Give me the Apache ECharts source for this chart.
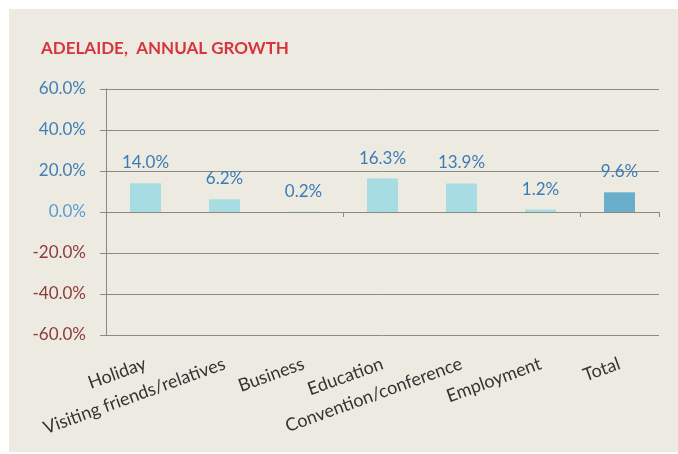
<!DOCTYPE html>
<html>
<head>
<meta charset="utf-8">
<script src="https://cdn.jsdelivr.net/npm/echarts@6/dist/echarts.min.js"></script>
<style>
  html, body { margin: 0; padding: 0; background: #ffffff; }
  #chart { position: absolute; left: 9px; top: 9px; width: 669px; height: 443px; background: #EDEAE1; }
</style>
</head>
<body>
<div id="chart"></div>
<script>
const titleText = 'ADELAIDE,  ANNUAL GROWTH';
const categories = ['Holiday', 'Visiting friends/relatives', 'Business', 'Education', 'Convention/conference', 'Employment', 'Total'];
const growth = [14.0, 6.2, 0.2, 16.3, 13.9, 1.2, 9.6];
const yMin = -60, yMax = 60, yStep = 20;

const FONT = 'Lato';
const lightBar = '#A8DCE3';
const totalBar = '#68AECA';

const chart = echarts.init(document.getElementById('chart'));
chart.setOption({
  animation: false,
  backgroundColor: '#EDEAE1',
  textStyle: { fontFamily: FONT },
  title: {
    text: titleText,
    left: 27, top: 26,
    textStyle: { color: '#D6353D', fontSize: 17, fontWeight: 'bold', fontFamily: FONT }
  },
  grid: { left: 97, right: 19, top: 80, bottom: 117, containLabel: false },
  xAxis: [
    {
      type: 'category',
      data: categories,
      axisLine: { show: true, onZero: true, lineStyle: { color: '#8A8A82', width: 1 } },
      axisTick: { show: true, length: 5, lineStyle: { color: '#8A8A82' } },
      axisLabel: { show: false },
      splitLine: { show: false }
    },
    {
      type: 'category',
      data: categories,
      position: 'bottom',
      axisLine: { show: false, onZero: false },
      axisTick: { show: false },
      axisLabel: { show: true, rotate: 20, margin: 28, color: '#333333', fontSize: 18, fontFamily: FONT, interval: 0 },
      splitLine: { show: false }
    }
  ],
  yAxis: {
    type: 'value',
    min: yMin, max: yMax, interval: yStep,
    axisLine: { show: true, lineStyle: { color: '#8A8A82', width: 1 } },
    axisTick: { show: true, inside: false, length: 6, lineStyle: { color: '#8A8A82' } },
    splitLine: { show: true, lineStyle: { color: '#8A8A82', width: 1 } },
    axisLabel: {
      margin: 20,
      fontSize: 17,
      fontFamily: FONT,
      formatter: function (v) {
        const s = v.toFixed(1) + '%';
        if (v > 0) return '{p|' + s + '}';
        if (v < 0) return '{n|' + s + '}';
        return '{z|' + s + '}';
      },
      rich: {
        p: { color: '#3D7FB6', fontSize: 17, fontFamily: FONT },
        n: { color: '#8C3B3B', fontSize: 17, fontFamily: FONT },
        z: { color: '#5A9AD2', fontSize: 17, fontFamily: FONT }
      }
    }
  },
  series: [{
    type: 'bar',
    xAxisIndex: 0,
    barWidth: 31,
    data: growth.map((v, i) => ({
      value: v,
      itemStyle: { color: i === growth.length - 1 ? totalBar : lightBar }
    })),
    label: {
      show: true,
      position: 'top',
      distance: 12,
      color: '#3B7CB6',
      fontSize: 17,
      fontFamily: FONT,
      formatter: p => p.value.toFixed(1) + '%'
    }
  }]
});
</script>
</body>
</html>
